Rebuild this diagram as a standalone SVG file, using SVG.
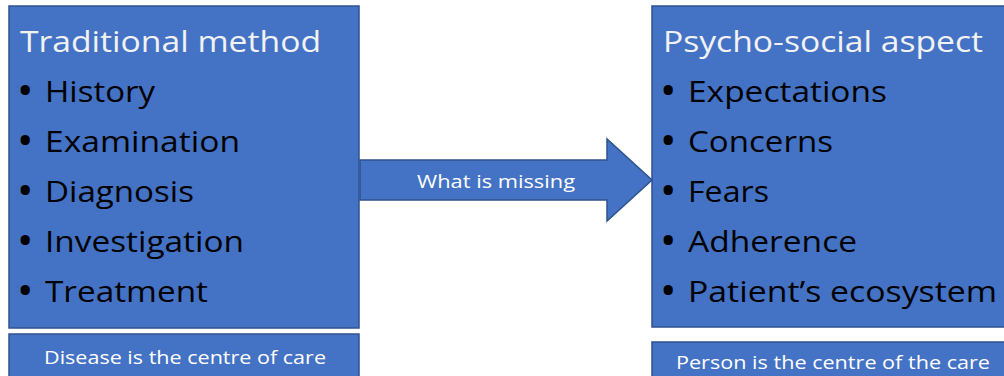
<svg xmlns="http://www.w3.org/2000/svg" width="1004" height="376" viewBox="0 0 1004 376">
<style>
.box{fill:#4472C4;stroke:#2F528F;stroke-width:1.5}
.title{font-family:"Open Sans",sans-serif;font-size:29px;fill:#F2F2F2}
.item{font-family:"Open Sans",sans-serif;font-size:29px;fill:#000}
.bul{font-family:"Open Sans",sans-serif;font-size:33px;font-weight:bold;fill:#000}
.small{font-family:"Open Sans",sans-serif;font-size:18px;fill:#FFFFFF}
</style>
<rect width="1004" height="376" fill="#FFFFFF"/>
<g id="traditional">
<rect class="box" x="9" y="6" width="350" height="322"/>
<text class="title" x="20" y="52" textLength="301" lengthAdjust="spacingAndGlyphs">Traditional method</text>
<text class="bul" x="19" y="102">•</text><text class="item" x="45" y="102" textLength="110" lengthAdjust="spacingAndGlyphs">History</text>
<text class="bul" x="19" y="152">•</text><text class="item" x="45" y="152" textLength="195" lengthAdjust="spacingAndGlyphs">Examination</text>
<text class="bul" x="19" y="202">•</text><text class="item" x="45" y="202" textLength="149" lengthAdjust="spacingAndGlyphs">Diagnosis</text>
<text class="bul" x="19" y="252">•</text><text class="item" x="45" y="252" textLength="199" lengthAdjust="spacingAndGlyphs">Investigation</text>
<text class="bul" x="19" y="302">•</text><text class="item" x="45" y="302" textLength="163" lengthAdjust="spacingAndGlyphs">Treatment</text>
</g>
<g id="disease">
<rect class="box" x="9" y="334" width="350" height="50"/>
<text class="small" x="185" y="364" text-anchor="middle" textLength="282" lengthAdjust="spacingAndGlyphs">Disease is the centre of care</text>
</g>
<g id="psychosocial">
<rect class="box" x="652" y="6" width="360" height="321"/>
<text class="title" x="663" y="52" textLength="320" lengthAdjust="spacingAndGlyphs">Psycho-social aspect</text>
<text class="bul" x="662" y="102">•</text><text class="item" x="688" y="102" textLength="199" lengthAdjust="spacingAndGlyphs">Expectations</text>
<text class="bul" x="662" y="152">•</text><text class="item" x="688" y="152" textLength="145" lengthAdjust="spacingAndGlyphs">Concerns</text>
<text class="bul" x="662" y="202">•</text><text class="item" x="688" y="202" textLength="81" lengthAdjust="spacingAndGlyphs">Fears</text>
<text class="bul" x="662" y="252">•</text><text class="item" x="688" y="252" textLength="169" lengthAdjust="spacingAndGlyphs">Adherence</text>
<text class="bul" x="662" y="302">•</text><text class="item" x="688" y="302" textLength="309" lengthAdjust="spacingAndGlyphs">Patient’s ecosystem</text>
</g>
<g id="person">
<rect class="box" x="652" y="342" width="360" height="50"/>
<text class="small" x="833" y="369" text-anchor="middle" textLength="314" lengthAdjust="spacingAndGlyphs">Person is the centre of the care</text>
</g>
<g id="connectors">
<polygon class="box" points="360,160 607,160 607,139 652,180 607,221 607,200 360,200"/>
<text class="small" x="496" y="188" text-anchor="middle" textLength="158" lengthAdjust="spacingAndGlyphs">What is missing</text>
</g>
</svg>
